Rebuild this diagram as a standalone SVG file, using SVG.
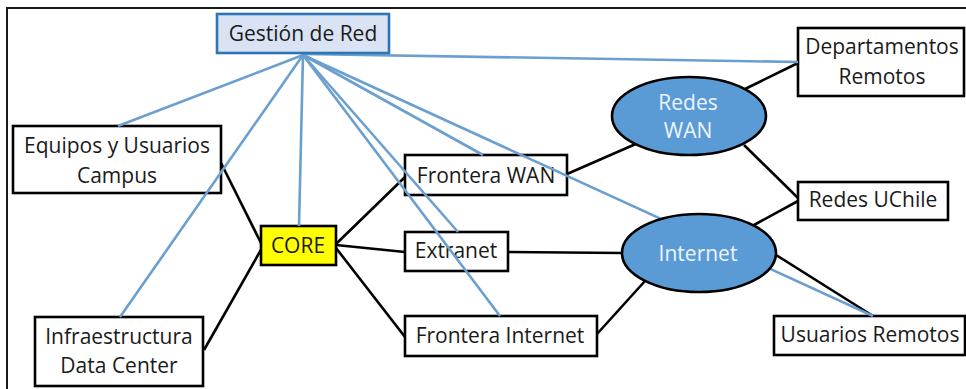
<svg xmlns="http://www.w3.org/2000/svg" width="966" height="389" viewBox="0 0 966 389">
  <style>
    .box { fill: #ffffff; stroke: #000000; stroke-width: 2.6; }
    .core { fill: #ffff00; stroke: #000000; stroke-width: 2.6; }
    .mgmt { fill: #dae3f3; stroke: #2e75b6; stroke-width: 2.6; }
    .cloud { fill: #5b9bd5; stroke: #000000; stroke-width: 2.6; }
    .link { stroke: #000000; stroke-width: 2.6; fill: none; }
    .mlink { stroke: #6a9fd0; stroke-width: 2.6; fill: none; }
    text { font-family: "Open Sans", "Noto Sans", sans-serif; font-size: 21px; fill: #1a1a1a; text-anchor: middle; }
    .light { fill: #eef4fb; }
    .frame { stroke: #1a1a1a; stroke-width: 2; fill: none; }
  </style>

  <rect width="966" height="389" fill="#ffffff"/>
  <!-- outer frame (top and left edges) -->
  <path class="frame" d="M7 389 V8 H966"/>

  <!-- physical links -->
  <g id="links">
    <line class="link" x1="221" y1="163" x2="262" y2="245"/>
    <line class="link" x1="204" y1="350" x2="262" y2="248"/>
    <line class="link" x1="336" y1="244" x2="405" y2="177"/>
    <line class="link" x1="336" y1="245" x2="405" y2="252"/>
    <line class="link" x1="336" y1="248" x2="405" y2="337"/>
    <line class="link" x1="567" y1="174" x2="638" y2="143"/>
    <line class="link" x1="745" y1="89" x2="798" y2="63"/>
    <line class="link" x1="744" y1="145" x2="798" y2="198"/>
    <line class="link" x1="508" y1="252" x2="622" y2="253"/>
    <line class="link" x1="597" y1="334" x2="645" y2="281"/>
    <line class="link" x1="754" y1="225" x2="798" y2="201"/>
    <line class="link" x1="776" y1="255" x2="873" y2="316"/>
  </g>

  <!-- boxes -->
  <g id="equipos">
    <rect class="box" x="13" y="126" width="208" height="67" stroke-width="3"/>
    <text x="117" y="153">Equipos y Usuarios</text>
    <text x="117" y="183">Campus</text>
  </g>
  <g id="infraestructura">
    <rect class="box" x="35" y="317" width="168" height="69"/>
    <text x="119" y="344">Infraestructura</text>
    <text x="119" y="373">Data Center</text>
  </g>
  <g id="core">
    <rect class="core" x="261" y="226" width="75" height="39"/>
    <text x="298" y="253">CORE</text>
  </g>
  <g id="frontera-wan">
    <rect class="box" x="405" y="155" width="162" height="40"/>
    <text x="486" y="183">Frontera WAN</text>
  </g>
  <g id="extranet">
    <rect class="box" x="405" y="232" width="103" height="39"/>
    <text x="456" y="258">Extranet</text>
  </g>
  <g id="frontera-internet">
    <rect class="box" x="405" y="316" width="192" height="40"/>
    <text x="500" y="343">Frontera Internet</text>
  </g>
  <g id="departamentos">
    <rect class="box" x="798" y="28" width="166" height="68"/>
    <text x="882" y="54">Departamentos</text>
    <text x="882" y="84">Remotos</text>
  </g>
  <g id="redes-uchile">
    <rect class="box" x="798" y="182" width="150" height="38"/>
    <text x="873" y="207">Redes UChile</text>
  </g>
  <g id="usuarios-remotos">
    <rect class="box" x="774" y="316" width="191" height="39"/>
    <text x="870" y="342">Usuarios Remotos</text>
  </g>

  <!-- management links from Gestión de Red -->
  <g id="mgmt-links">
    <line class="mlink" x1="303" y1="55" x2="118" y2="126"/>
    <line class="mlink" x1="303" y1="55" x2="120" y2="317"/>
    <line class="mlink" x1="303" y1="55" x2="299" y2="226"/>
    <line class="mlink" x1="303" y1="55" x2="483" y2="155"/>
    <line class="mlink" x1="303" y1="55" x2="458" y2="232"/>
    <line class="mlink" x1="303" y1="55" x2="500" y2="316"/>
    <line class="mlink" x1="303" y1="55" x2="873" y2="316"/>
    <line class="mlink" x1="303" y1="54" x2="798" y2="62"/>
  </g>

  <!-- network clouds -->
  <g id="redes-wan">
    <ellipse class="cloud" cx="689" cy="116" rx="77" ry="39"/>
    <text class="light" x="688" y="110">Redes</text>
    <text class="light" x="688" y="138">WAN</text>
  </g>
  <g id="internet">
    <ellipse class="cloud" cx="699" cy="253" rx="77" ry="39"/>
    <text class="light" x="698" y="261">Internet</text>
  </g>

  <g id="gestion">
    <rect class="mgmt" x="217" y="14" width="172" height="39"/>
    <text x="303" y="41">Gestión de Red</text>
  </g>
</svg>
